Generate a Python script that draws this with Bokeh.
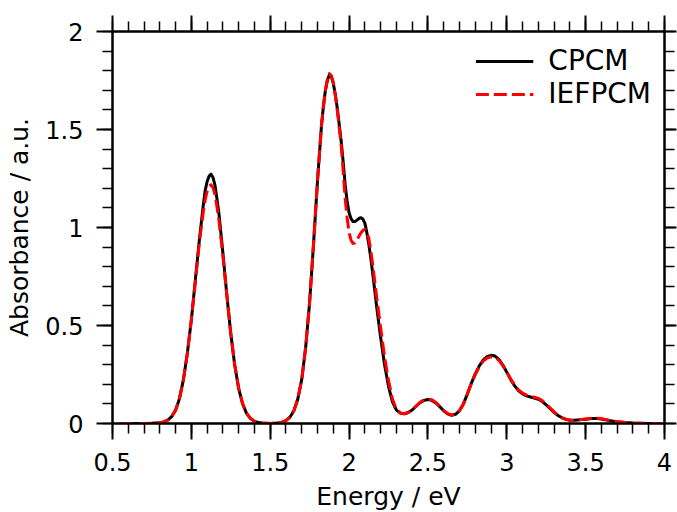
from bokeh.plotting import figure
from bokeh.models import (Range1d, LinearAxis, SingleIntervalTicker,
                          NumeralTickFormatter, Legend, LegendItem,
                          ColumnDataSource, CustomLabelingPolicy)
from bokeh.embed import file_html
from bokeh.resources import INLINE

# ---------------- data ----------------
energy = [
    0.55, 0.6, 0.65, 0.7, 0.75, 0.8,
    0.825, 0.85, 0.875, 0.9, 0.925, 0.95, 0.975, 1.0,
    1.025, 1.05, 1.075, 1.0875, 1.1, 1.1125, 1.125, 1.1375, 1.15, 1.1625, 1.175, 1.2,
    1.225, 1.25, 1.275, 1.3, 1.325, 1.35, 1.375, 1.4,
    1.425, 1.45, 1.5, 1.55, 1.575, 1.6,
    1.625, 1.65, 1.675, 1.7, 1.725, 1.75, 1.775, 1.8,
    1.825, 1.8375, 1.85, 1.8625, 1.875, 1.8875, 1.9, 1.9125, 1.925, 1.95, 1.9625, 1.975, 1.9875, 2.0,
    2.0125, 2.025, 2.0375, 2.05, 2.0625, 2.075, 2.0875, 2.1, 2.1125, 2.125, 2.1375, 2.15, 2.175, 2.2,
    2.225, 2.25, 2.275, 2.3, 2.325, 2.35, 2.375, 2.4,
    2.425, 2.45, 2.475, 2.5, 2.525, 2.55, 2.575, 2.6,
    2.625, 2.65, 2.675, 2.7, 2.725, 2.75, 2.775, 2.8,
    2.825, 2.85, 2.875, 2.9, 2.925, 2.95, 2.975, 3.0,
    3.025, 3.05, 3.075, 3.1, 3.125, 3.15, 3.175, 3.2,
    3.225, 3.25, 3.275, 3.3, 3.325, 3.35, 3.375, 3.4,
    3.425, 3.45, 3.475, 3.5, 3.525, 3.55, 3.575, 3.6,
    3.625, 3.65, 3.675, 3.7, 3.75, 3.8, 3.85, 3.9, 3.95, 3.975,
]

cpcm = [
    0.0, 0.0, 0.0, 0.0, 0.001, 0.004,
    0.008, 0.017, 0.035, 0.068, 0.128, 0.225, 0.36, 0.53,
    0.73, 0.93, 1.11, 1.188, 1.235, 1.262, 1.272, 1.255, 1.215, 1.145, 1.07, 0.87,
    0.655, 0.458, 0.297, 0.178, 0.100, 0.052, 0.025, 0.011,
    0.005, 0.002, 0.0, 0.002, 0.006, 0.015,
    0.032, 0.065, 0.125, 0.225, 0.39, 0.62, 0.92, 1.24,
    1.52, 1.62, 1.70, 1.75, 1.78, 1.77, 1.735, 1.68, 1.61, 1.44, 1.335, 1.22, 1.135, 1.075,
    1.045, 1.030, 1.030, 1.038, 1.046, 1.050, 1.043, 1.022, 0.975, 0.915, 0.845, 0.765, 0.595, 0.44,
    0.30, 0.19, 0.11, 0.068, 0.053, 0.050, 0.056, 0.069,
    0.088, 0.106, 0.118, 0.122, 0.118, 0.105, 0.086, 0.065,
    0.049, 0.042, 0.047, 0.065, 0.100, 0.150, 0.205, 0.253,
    0.293, 0.323, 0.341, 0.348, 0.344, 0.327, 0.298, 0.262,
    0.224, 0.192, 0.167, 0.151, 0.141, 0.135, 0.130, 0.124,
    0.112, 0.095, 0.076, 0.057, 0.041, 0.029, 0.021, 0.017,
    0.016, 0.018, 0.020, 0.022, 0.024, 0.025, 0.025, 0.023,
    0.019, 0.015, 0.012, 0.009, 0.005, 0.002, 0.001, 0.0, 0.0, 0.0,
]

iefpcm = [
    0.0, 0.0, 0.0, 0.0, 0.001, 0.004,
    0.008, 0.017, 0.035, 0.068, 0.128, 0.225, 0.36, 0.53,
    0.72, 0.92, 1.075, 1.14, 1.185, 1.210, 1.218, 1.203, 1.167, 1.105, 1.035, 0.855,
    0.655, 0.46, 0.30, 0.18, 0.101, 0.053, 0.026, 0.011,
    0.005, 0.002, 0.0, 0.002, 0.006, 0.015,
    0.032, 0.065, 0.125, 0.225, 0.39, 0.62, 0.92, 1.24,
    1.52, 1.62, 1.70, 1.755, 1.785, 1.775, 1.74, 1.675, 1.60, 1.42, 1.29, 1.15, 1.05, 0.975,
    0.935, 0.918, 0.922, 0.935, 0.955, 0.972, 0.985, 0.99, 0.975, 0.945, 0.885, 0.81, 0.645, 0.49,
    0.34, 0.22, 0.125, 0.072, 0.054, 0.050, 0.056, 0.069,
    0.089, 0.108, 0.121, 0.125, 0.121, 0.107, 0.087, 0.066,
    0.050, 0.043, 0.048, 0.066, 0.100, 0.150, 0.203, 0.250,
    0.288, 0.318, 0.334, 0.340, 0.338, 0.322, 0.296, 0.262,
    0.226, 0.195, 0.171, 0.155, 0.145, 0.139, 0.134, 0.128,
    0.116, 0.099, 0.079, 0.059, 0.043, 0.030, 0.022, 0.018,
    0.017, 0.019, 0.021, 0.023, 0.025, 0.027, 0.027, 0.025,
    0.021, 0.016, 0.012, 0.009, 0.005, 0.002, 0.001, 0.0, 0.0, 0.0,
]

series_names = ["CPCM", "IEFPCM"]
x_label = "Energy / eV"
y_label = "Absorbance / a.u."

assert len(energy) == len(cpcm) == len(iefpcm)

FONT = "DejaVu Sans"

p = figure(frame_width=552, frame_height=392,
           output_backend="svg", toolbar_location=None,
           x_range=Range1d(0.5, 4.0), y_range=Range1d(0.0, 2.0),
           x_axis_location=None, y_axis_location=None,
           min_border_left=112, min_border_right=13,
           min_border_top=31, min_border_bottom=89)
p.grid.visible = False
p.outline_line_color = "black"
p.outline_line_width = 2
p.background_fill_color = "white"
p.border_fill_color = "white"


def make_axis(labels, title=None, tick_out=16):
    ax = LinearAxis(ticker=SingleIntervalTicker(interval=0.5, num_minor_ticks=5),
                    formatter=NumeralTickFormatter(format="0.[0]"))
    ax.major_tick_in = 0
    ax.major_tick_out = tick_out
    ax.minor_tick_in = 0
    ax.minor_tick_out = 10
    ax.axis_line_width = 2
    ax.axis_line_color = "black"
    ax.major_tick_line_width = 2
    ax.minor_tick_line_width = 1.5
    ax.major_tick_line_color = "black"
    ax.minor_tick_line_color = "black"
    if labels:
        ax.major_label_text_font = FONT
        ax.major_label_text_font_size = "24px"
        ax.major_label_text_color = "black"
        ax.major_label_standoff = 13
    else:
        ax.major_label_text_font_size = "1px"
        ax.major_label_standoff = 0
        ax.axis_label_standoff = 0
        ax.major_label_policy = CustomLabelingPolicy(
            code="for (const i of indices) { indices.unset(i) } return indices")
    if title:
        ax.axis_label = title
        ax.axis_label_text_font = FONT
        ax.axis_label_text_font_size = "25px"
        ax.axis_label_text_font_style = "normal"
        ax.axis_label_text_color = "black"
        ax.axis_label_standoff = 8
    return ax


p.add_layout(make_axis(True, x_label), "below")
p.add_layout(make_axis(True, y_label), "left")
p.add_layout(make_axis(False), "above")
p.add_layout(make_axis(False, tick_out=12), "right")

src = ColumnDataSource(dict(energy=energy, cpcm=cpcm, iefpcm=iefpcm))
r1 = p.line("energy", "cpcm", source=src, line_color="black", line_width=3,
            line_join="round")
r2 = p.line("energy", "iefpcm", source=src, line_color="red", line_width=3,
            line_dash="13 5", line_join="round")

legend = Legend(items=[LegendItem(label=series_names[0], renderers=[r1]),
                       LegendItem(label=series_names[1], renderers=[r2])],
                location="top_right", border_line_color=None,
                background_fill_alpha=0,
                label_text_font=FONT, label_text_font_size="28px",
                label_text_color="black",
                glyph_width=58, glyph_height=32, label_standoff=15,
                spacing=-3, padding=0, margin=13)
p.add_layout(legend)

open("out.html", "w").write(file_html(p, INLINE))
